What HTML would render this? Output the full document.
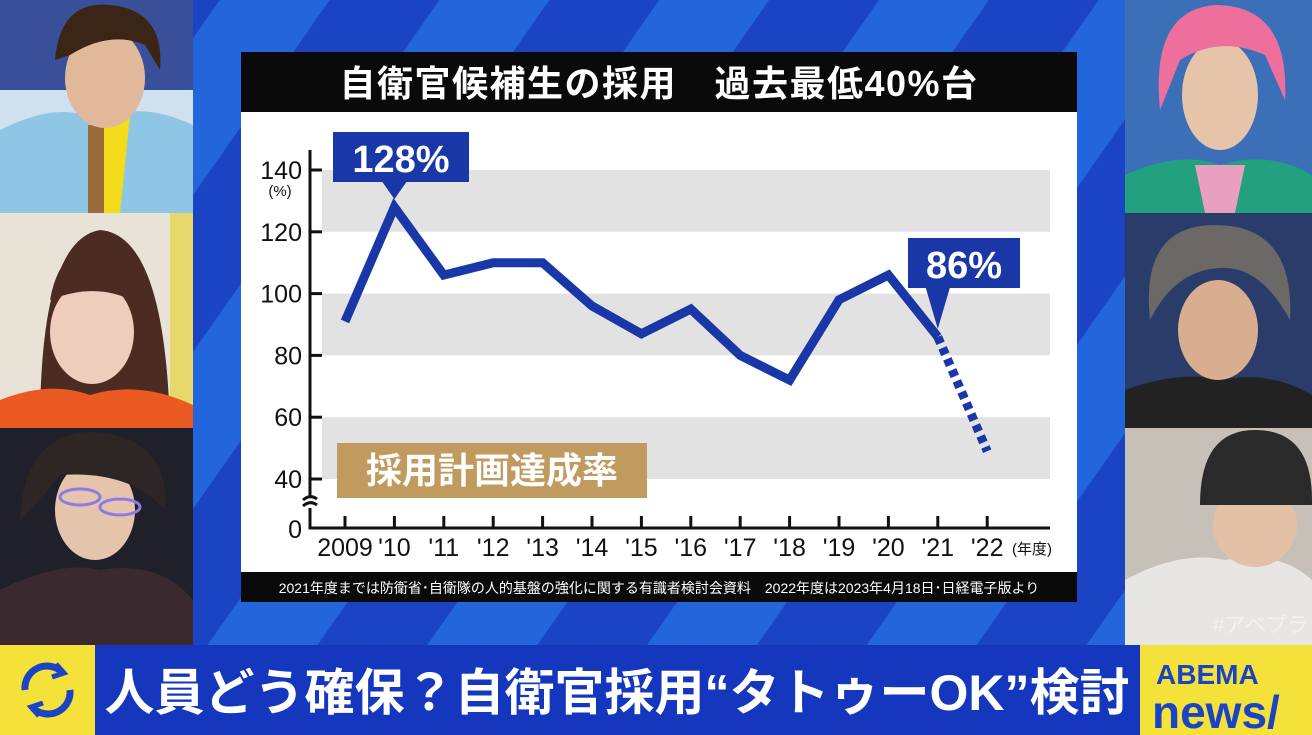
<!DOCTYPE html>
<html><head><meta charset="utf-8"><style>
html,body{margin:0;padding:0;width:1312px;height:735px;overflow:hidden;background:#1a45c0}
svg{display:block}
text{font-family:"Liberation Sans","Noto Sans CJK JP",sans-serif}
</style></head><body>
<svg id="root" width="1312" height="735" viewBox="0 0 1312 735" xmlns="http://www.w3.org/2000/svg">
<defs>
<pattern id="stripes" patternUnits="userSpaceOnUse" width="180" height="180" patternTransform="rotate(35)">
<rect width="180" height="180" fill="#1b44c4"/><rect width="90" height="180" fill="#2366dc"/>
</pattern>
<clipPath id="c1"><rect x="0" y="0" width="193" height="213"/></clipPath>
<clipPath id="c2"><rect x="0" y="213" width="193" height="215"/></clipPath>
<clipPath id="c3"><rect x="0" y="428" width="193" height="217"/></clipPath>
<clipPath id="r1"><rect x="1125" y="0" width="187" height="213"/></clipPath>
<clipPath id="r2"><rect x="1125" y="213" width="187" height="215"/></clipPath>
<clipPath id="r3"><rect x="1125" y="428" width="187" height="217"/></clipPath>
</defs>
<rect x="193" y="0" width="932" height="645" fill="url(#stripes)"/>

<g clip-path="url(#c1)">
<rect x="0" y="0" width="193" height="213" fill="#3a4f9a"/><rect x="0" y="90" width="193" height="123" fill="#cfe0ee"/>
<path d="M0 213 L0 130 Q60 100 95 120 Q140 100 193 125 L193 213Z" fill="#8fc6e6"/>
<path d="M95 122 L130 115 L120 213 L95 213Z" fill="#f2dc1c"/>
<rect x="88" y="125" width="16" height="88" fill="#9a6a3a"/>
<ellipse cx="105" cy="78" rx="40" ry="50" fill="#e1b89a"/>
<path d="M55 60 Q60 0 110 5 Q165 10 160 70 L145 45 Q110 30 70 55Z" fill="#3a2516"/>
</g>
<g clip-path="url(#c2)">
<rect x="0" y="213" width="193" height="215" fill="#e9e2d6"/><rect x="170" y="213" width="23" height="215" fill="#e6d86a"/>
<path d="M40 428 Q40 240 100 230 Q165 235 170 428Z" fill="#4b2b22"/>
<ellipse cx="92" cy="332" rx="42" ry="52" fill="#efcdbd"/>
<path d="M50 300 Q60 245 100 245 Q140 250 140 305 Q100 280 50 300Z" fill="#4b2b22"/>
<path d="M0 428 L0 400 Q50 380 90 395 Q140 380 193 405 L193 428Z" fill="#ea5a22"/>
</g>
<g clip-path="url(#c3)">
<rect x="0" y="428" width="193" height="217" fill="#20202a"/>
<path d="M0 645 L0 590 Q60 560 100 570 Q160 560 193 600 L193 645Z" fill="#3a2a30"/>
<ellipse cx="95" cy="510" rx="40" ry="50" fill="#e5c4ac"/>
<path d="M20 520 Q25 430 95 432 Q170 438 165 510 Q130 470 60 475 Q40 500 20 520Z" fill="#2e2624"/>
<ellipse cx="80" cy="497" rx="20" ry="8" fill="none" stroke="#8c7ae6" stroke-width="3"/><ellipse cx="120" cy="507" rx="20" ry="8" fill="none" stroke="#8c7ae6" stroke-width="3"/>
</g>
<g clip-path="url(#r1)">
<rect x="1125" y="0" width="187" height="213" fill="#3b6fb8"/>
<path d="M1125 213 L1125 175 Q1180 150 1220 165 Q1270 150 1312 175 L1312 213Z" fill="#23a07d"/>
<path d="M1195 165 L1245 165 L1235 213 L1205 213Z" fill="#e9a0c0"/>
<ellipse cx="1220" cy="95" rx="38" ry="55" fill="#e6c4aa"/>
<path d="M1160 110 Q1150 10 1215 5 Q1290 5 1285 100 L1265 55 Q1220 35 1180 60Z" fill="#ef6f9c"/>
</g>
<g clip-path="url(#r2)">
<rect x="1125" y="213" width="187" height="215" fill="#2a3d6a"/>
<path d="M1125 428 L1125 390 Q1180 370 1220 380 Q1270 370 1312 395 L1312 428Z" fill="#222"/>
<ellipse cx="1218" cy="330" rx="40" ry="50" fill="#d9ad90"/>
<path d="M1150 320 Q1140 225 1215 225 Q1295 225 1290 320 Q1260 265 1220 268 Q1175 270 1150 320Z" fill="#6c6866"/>
</g>
<g clip-path="url(#r3)">
<rect x="1125" y="428" width="187" height="217" fill="#c6c0b8"/>
<path d="M1125 645 L1125 580 Q1180 550 1225 560 Q1280 550 1312 580 L1312 645Z" fill="#e8e6e2"/>
<ellipse cx="1255" cy="525" rx="42" ry="42" fill="#e3c0a6"/>
<path d="M1200 505 Q1200 430 1255 430 Q1312 430 1312 500 L1312 505Z" fill="#2a2a2a"/>
<text x="1308" y="632" font-size="21" fill="#f2f2f2" text-anchor="end">#アベプラ</text>
</g>

<rect x="241" y="52" width="836" height="61" fill="#0a0a0a"/>
<text x="659" y="96" font-size="36" font-weight="bold" fill="#fff" text-anchor="middle" letter-spacing="1.5">自衛官候補生の採用　過去最低40%台</text>
<rect x="241" y="112" width="836" height="462" fill="#fff"/>
<g id="chart"></g>
<rect x="241" y="572" width="836" height="30" fill="#0a0a0a"/>
<text x="659" y="593" font-size="14" fill="#fff" text-anchor="middle">2021年度までは防衛省･自衛隊の人的基盤の強化に関する有識者検討会資料　2022年度は2023年4月18日･日経電子版より</text>

<rect x="0" y="645" width="95" height="90" fill="#f4e23a"/>
<g fill="none" stroke="#1b44c4" stroke-width="7">
<path d="M25 690 A22 22 0 0 1 62 672"/><path d="M70 690 A22 22 0 0 1 33 708"/>
<path d="M56 664 L64 673 L52 677" stroke-width="5"/><path d="M39 716 L31 707 L43 703" stroke-width="5"/>
</g>
<rect x="95" y="645" width="1045" height="90" fill="#1437bd"/>
<text x="617" y="710" font-size="50" font-weight="bold" fill="#fff" text-anchor="middle">人員どう確保？自衛官採用“タトゥーOK”検討</text>
<rect x="1140" y="645" width="172" height="90" fill="#f4e23a"/>
<text x="1156" y="684" font-size="28" font-weight="bold" fill="#1b44c4">ABEMA</text>
<text x="1152" y="728" font-size="46" font-weight="bold" fill="#1b44c4">news/</text>
</svg>
<script>
const years = ['2009',"'10","'11","'12","'13","'14","'15","'16","'17","'18","'19","'20","'21","'22"];
const values = [91,128,106,110,110,96,87,95,80,72,98,106,86,49];
const yTicks = [40,60,80,100,120,140];
const bands = [[40,60],[80,100],[120,140]];
const ns='http://www.w3.org/2000/svg';
const g=document.getElementById('chart');
const X=i=>345+i*49.4;
const Y=v=>479-(v-40)*3.09;
function mk(t,a){const e=document.createElementNS(ns,t);for(const k in a)e.setAttribute(k,a[k]);g.appendChild(e);return e;}
bands.forEach(b=>{const r=mk('rect',{x:322,y:Y(b[1]),width:728,height:Y(b[0])-Y(b[1]),fill:'#e2e2e2'});

});
let ax=mk('path',{d:'M310 150 L310 496 M303 500 Q310 494 317 499 M303 506 Q310 500 317 505 M310 508 L310 528 L1050 528',stroke:'#111','stroke-width':3,fill:'none'});


yTicks.forEach(v=>{mk('line',{x1:310,x2:322,y1:Y(v),y2:Y(v),stroke:'#111','stroke-width':3});
const t=mk('text',{x:302,y:Y(v)+9,'font-size':25,'text-anchor':'end',fill:'#111'});t.textContent=v;

});
let z=mk('text',{x:302,y:538,'font-size':25,'text-anchor':'end',fill:'#111'});z.textContent='0';


let u=mk('text',{x:280,y:196,'font-size':15,'text-anchor':'middle',fill:'#111'});u.textContent='(%)';


years.forEach((y,i)=>{mk('line',{x1:X(i),x2:X(i),y1:516,y2:528,stroke:'#111','stroke-width':3});
const t=mk('text',{x:X(i),y:556,'font-size':25,'text-anchor':'middle',fill:'#111'});t.textContent=y;

});
let unit=mk('text',{x:1032,y:554,'font-size':15,'text-anchor':'middle',fill:'#111'});unit.textContent='(年度)';


const n=values.length;
let d=values.slice(0,n-1).map((v,i)=>(i?'L':'M')+X(i)+' '+Y(v)).join(' ');
let ln=mk('path',{d:d,stroke:'#1a37a8','stroke-width':9,fill:'none','stroke-linejoin':'miter'});


let ds=mk('line',{x1:X(n-2),y1:Y(values[n-2]),x2:X(n-1),y2:Y(values[n-1]),stroke:'#1a37a8','stroke-width':9,'stroke-dasharray':'7 5'});


function callout(i,txt,x0,w,y0){const px=X(i),py=Y(values[i]);
const p=mk('path',{d:`M${x0} ${y0} h${w} v50 H${px+12} L${px} ${py-8} L${px-12} ${y0+50} H${x0}Z`,fill:'#1a37a8'});


const t=mk('text',{x:x0+w/2,y:y0+40,'font-size':38,'font-weight':'bold','text-anchor':'middle',fill:'#fff'});t.textContent=txt;

}
callout(1,values[1]+'%',333,136,132);
callout(12,values[12]+'%',908,112,238);
let lb=mk('rect',{x:337,y:443,width:310,height:55,fill:'#c09a5f'});


let lt=mk('text',{x:492,y:483,'font-size':36,'font-weight':'bold','text-anchor':'middle',fill:'#fff'});lt.textContent='採用計画達成率';


</script>
</body></html>
